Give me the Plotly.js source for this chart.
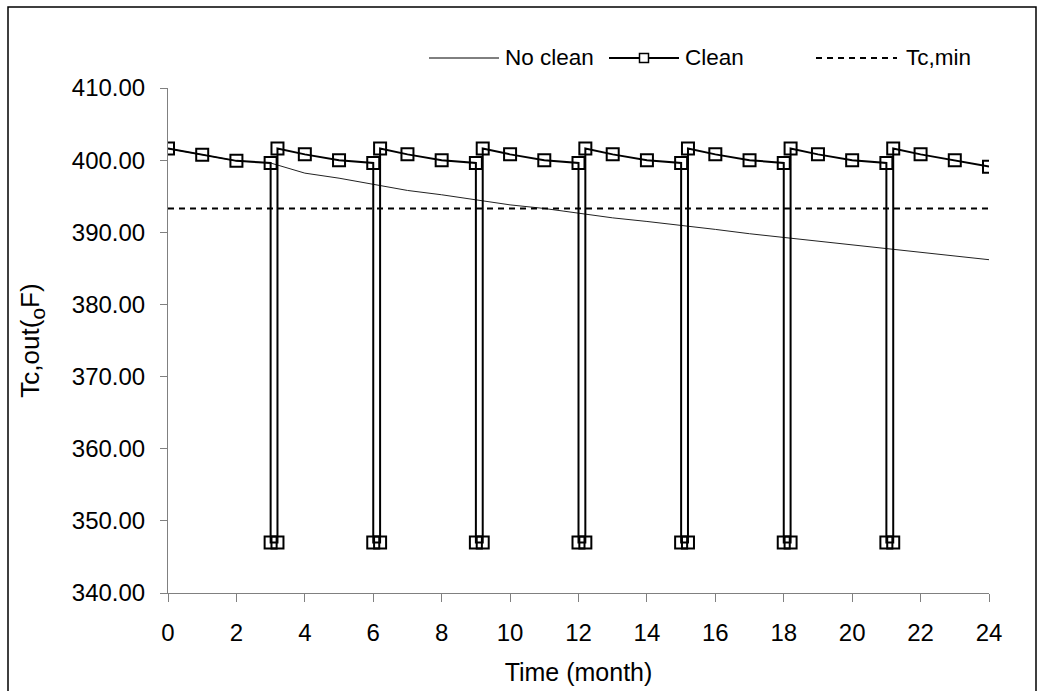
<!DOCTYPE html>
<html>
<head>
<meta charset="utf-8">
<script src="https://cdn.plot.ly/plotly-3.0.1.min.js"></script>
<style>
html,body{margin:0;padding:0;background:#fff;}
#chart{width:1045px;height:691px;}
</style>
</head>
<body>
<div id="chart"></div>
<script>
// ---- data ----
var months = [0,1,2,3,4,5,6,7,8,9,10,11,12,13,14,15,16,17,18,19,20,21,22,23,24];
var noClean = [401.6,400.75,399.9,399.6,398.2,397.5,396.7,395.8,395.2,394.5,393.8,393.3,392.6,392.0,391.5,391.0,390.4,389.8,389.3,388.8,388.2,387.7,387.3,386.8,386.2];
var cleanX = [0,1,2,3,3,3.2,3.2,4,5,6,6,6.2,6.2,7,8,9,9,9.2,9.2,10,11,12,12,12.2,12.2,13,14,15,15,15.2,15.2,16,17,18,18,18.2,18.2,19,20,21,21,21.2,21.2,22,23,24];
var cleanY = [401.6,400.75,399.9,399.6,347,347,401.6,400.8,400.0,399.6,347,347,401.6,400.8,400.0,399.6,347,347,401.6,400.8,400.0,399.6,347,347,401.6,400.8,400.0,399.6,347,347,401.6,400.8,400.0,399.6,347,347,401.6,400.8,400.0,399.6,347,347,401.6,400.8,400.0,399.1];
var tcMinX = [0,24];
var tcMinY = [393.3,393.3];
var xTicks = [0,2,4,6,8,10,12,14,16,18,20,22,24];
var yTicks = [340,350,360,370,380,390,400,410];
var legendNames = ["No clean","Clean","Tc,min"];

// ---- layout geometry (pixels) ----
var L = 168, R = 989, T = 88, B = 593;
var W = R - L, H = B - T;
function px(x){ return (x - L) / W; }
function py(y){ return (B - y) / H; }

var FONT = "Liberation Sans, Arial, sans-serif";

var traces = [
  {x: months, y: noClean, mode: 'lines', name: legendNames[0],
   line: {color: '#222', width: 1}, showlegend: false},
  {x: cleanX, y: cleanY, mode: 'lines+markers', name: legendNames[1],
   line: {color: '#000', width: 2},
   marker: {symbol: 'square-open', size: 12, color: '#000', line: {width: 2, color: '#000'}},
   showlegend: false},
  {x: tcMinX, y: tcMinY, mode: 'lines', name: legendNames[2],
   line: {color: '#000', width: 2, dash: '6px,5px'}, showlegend: false}
];

// manual legend
var legY = 58;
var shapes = [
  // outer frame
  {type: 'rect', xref: 'paper', yref: 'paper', x0: px(8), x1: px(1036), y0: py(720), y1: py(7),
   line: {color: '#000', width: 1.5}, fillcolor: 'rgba(0,0,0,0)', layer: 'below'},
  // No clean sample
  {type: 'line', xref: 'paper', yref: 'paper', x0: px(429), x1: px(499), y0: py(legY), y1: py(legY),
   line: {color: '#000', width: 1}},
  // Clean sample
  {type: 'line', xref: 'paper', yref: 'paper', x0: px(609), x1: px(679), y0: py(legY), y1: py(legY),
   line: {color: '#000', width: 2}},
  {type: 'rect', xref: 'paper', yref: 'paper', x0: px(639.5), x1: px(648.5), y0: py(legY+4.5), y1: py(legY-4.5),
   line: {color: '#000', width: 1.5}, fillcolor: '#fff'},
  // Tc,min sample
  {type: 'line', xref: 'paper', yref: 'paper', x0: px(816), x1: px(897), y0: py(legY), y1: py(legY),
   line: {color: '#000', width: 2, dash: '6px,5px'}}
];
var LEGF = {family: FONT, size: 22.5, color: '#000'};
var annotations = [
  {xref: 'paper', yref: 'paper', x: px(503), y: py(legY), text: legendNames[0], showarrow: false,
   xanchor: 'left', yanchor: 'middle', font: LEGF},
  {xref: 'paper', yref: 'paper', x: px(683), y: py(legY), text: legendNames[1], showarrow: false,
   xanchor: 'left', yanchor: 'middle', font: LEGF},
  {xref: 'paper', yref: 'paper', x: px(904), y: py(legY), text: legendNames[2], showarrow: false,
   xanchor: 'left', yanchor: 'middle', font: LEGF}
];

var layout = {
  width: 1045, height: 691,
  margin: {l: L, r: 1045 - R, t: T, b: 691 - B, pad: 0},
  paper_bgcolor: '#fff', plot_bgcolor: 'rgba(0,0,0,0)',
  showlegend: false,
  font: {family: FONT, size: 24, color: '#000'},
  xaxis: {
    range: [0, 24], tickvals: xTicks, ticktext: xTicks.map(String),
    showgrid: false, zeroline: false, showline: true, linecolor: '#808080', linewidth: 1,
    ticks: 'outside', ticklen: 8, tickcolor: '#808080', tickwidth: 1,
    ticklabelstandoff: 10,
    tickfont: {family: FONT, size: 24, color: '#000'},
    title: {text: 'Time (month)', font: {family: FONT, size: 25, color: '#000'}, standoff: 18}
  },
  yaxis: {
    range: [340, 410], tickvals: yTicks, ticktext: yTicks.map(function(v){return v.toFixed(2);}),
    showgrid: false, zeroline: false, showline: true, linecolor: '#808080', linewidth: 1,
    ticks: 'outside', ticklen: 7, tickcolor: '#808080', tickwidth: 1,
    ticklabelstandoff: 10,
    tickfont: {family: FONT, size: 24, color: '#000'},
    title: {text: 'Tc,out(<sub><span style="font-size:21px">o</span></sub>F)', font: {family: FONT, size: 26, color: '#000'}, standoff: 24}
  },
  shapes: shapes,
  annotations: annotations
};

Plotly.newPlot('chart', traces, layout, {displayModeBar: false, staticPlot: true});
</script>
</body>
</html>
